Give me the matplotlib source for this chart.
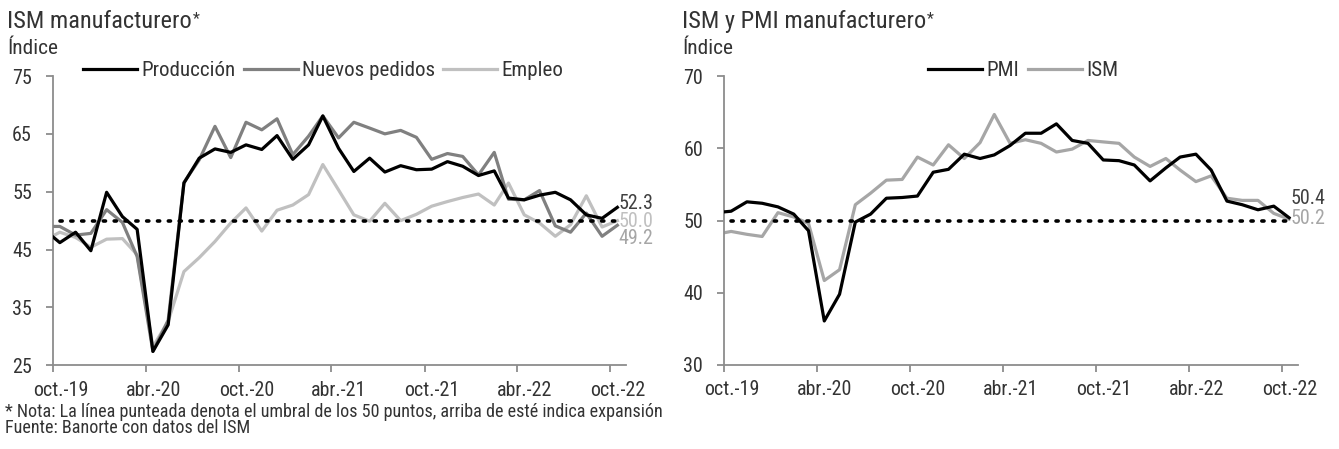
import matplotlib
matplotlib.use("Agg")
import matplotlib.pyplot as plt
from matplotlib import font_manager
import datetime as dt

# ---------------- data (monthly, Sep-2019 .. Oct-2022) ----------------
months = [dt.date(2019 + (8 + i) // 12, (8 + i) % 12 + 1, 15) for i in range(38)]

produccion = [48.4, 46.2, 48.0, 44.8, 54.9, 50.7, 48.5, 27.4, 32.0, 56.5, 60.8, 62.4, 61.8,
              63.1, 62.3, 64.7, 60.6, 63.1, 68.1, 62.5, 58.5, 60.8, 58.4, 59.5, 58.8,
              58.9, 60.2, 59.4, 57.8, 58.6, 53.9, 53.6, 54.4, 54.9, 53.6, 51.0, 50.4, 52.3]
nuevos_pedidos = [49.0, 49.0, 47.5, 47.8, 51.9, 49.7, 43.8, 27.4, 32.8, 56.6, 60.5, 66.3, 60.9,
                  67.0, 65.7, 67.6, 61.4, 64.6, 68.1, 64.3, 67.0, 66.0, 65.0, 65.6, 64.4,
                  60.6, 61.6, 61.1, 57.9, 61.8, 53.7, 53.6, 55.2, 49.1, 48.0, 51.3, 47.3, 49.2]
empleo = [46.6, 48.0, 47.1, 45.4, 46.8, 46.9, 44.1, 28.2, 32.6, 41.2, 43.6, 46.4, 49.6,
          52.2, 48.2, 51.8, 52.7, 54.5, 59.7, 55.3, 51.0, 49.9, 53.0, 50.0, 51.1,
          52.5, 53.3, 54.0, 54.6, 52.7, 56.5, 51.0, 49.6, 47.3, 49.3, 54.3, 48.9, 50.0]
pmi = [51.1, 51.3, 52.6, 52.4, 51.9, 50.9, 48.6, 36.1, 39.8, 49.8, 50.9, 53.1, 53.2,
       53.4, 56.7, 57.1, 59.2, 58.6, 59.1, 60.4, 62.1, 62.1, 63.4, 61.1, 60.7,
       58.4, 58.3, 57.7, 55.5, 57.3, 58.8, 59.2, 57.0, 52.7, 52.2, 51.5, 52.0, 50.4]
ism = [48.1, 48.5, 48.1, 47.8, 51.1, 50.5, 49.6, 41.7, 43.2, 52.2, 53.8, 55.6, 55.7,
       58.8, 57.7, 60.5, 58.6, 60.8, 64.7, 60.7, 61.2, 60.7, 59.5, 59.9, 61.1,
       60.9, 60.7, 58.8, 57.5, 58.6, 57.0, 55.4, 56.2, 53.1, 52.8, 52.8, 51.0, 50.2]
umbral = 50

tick_dates = [dt.date(2019, 10, 1), dt.date(2020, 4, 1), dt.date(2020, 10, 1), dt.date(2021, 4, 1),
              dt.date(2021, 10, 1), dt.date(2022, 4, 1), dt.date(2022, 10, 1)]
tick_labels = ["oct.-19", "abr.-20", "oct.-20", "abr.-21", "oct.-21", "abr.-22", "oct.-22"]

# ---------------- fonts: prefer a narrow / condensed sans ----------------
chosen_family, chosen_stretch = "Liberation Sans", "normal"
cands = []
for f in font_manager.fontManager.ttflist:
    narrowish = ("Narrow" in f.name or "Condensed" in f.name or
                 str(f.stretch) in ("condensed", "semi-condensed", "extra-condensed") or
                 (isinstance(f.stretch, int) and f.stretch < 500))
    if narrowish and f.style == "normal" and f.weight in (400, "normal", "regular"):
        cands.append(f)
pref = ["Liberation Sans Narrow", "Arial Narrow", "Roboto Condensed", "Open Sans Condensed",
        "Noto Sans", "DejaVu Sans", "Open Sans", "Roboto", "Lato", "Inter"]
for p in pref:
    hit = [f for f in cands if f.name == p]
    if hit:
        chosen_family, chosen_stretch = hit[0].name, hit[0].stretch
        break
plt.rcParams["font.family"] = [chosen_family, "Liberation Sans", "DejaVu Sans"]
plt.rcParams["font.stretch"] = chosen_stretch

TXT = "#333333"
AX = "#8c8c8c"
C_BLACK = "#000000"
C_DGRAY = "#808080"
C_LGRAY = "#c0c0c0"
C_MGRAY = "#a6a6a6"

W, H = 1339, 449
fig = plt.figure(figsize=(W / 100, H / 100), dpi=100)
renderer = fig.canvas.get_renderer()


def fit(text, target_px, ref=12.0):
    t = fig.text(0, 0, text, fontsize=ref)
    w = t.get_window_extent(renderer).width
    t.remove()
    return ref * target_px / w


FS_TICK = min(fit("oct.-19", 55), 16)
FS_LEG = min(fit("Producción", 94), 16)
FS_TITLE = min(fit("ISM manufacturero", 184), 18)
FS_IDX = min(fit("Índice", 51), 16)
FS_NOTE = min(fit("* Nota: La línea punteada denota el umbral de los 50 puntos, arriba de esté indica expansión", 660), 14)


def px(x0, y_top, x1, y_bot):
    return [x0 / W, 1 - y_bot / H, (x1 - x0) / W, (y_bot - y_top) / H]


def style_axis(ax, ylim, yticks):
    ax.set_xlim(dt.date(2019, 10, 1), dt.date(2022, 11, 1))
    ax.set_ylim(*ylim)
    ax.set_yticks(yticks)
    for s in ["top", "right"]:
        ax.spines[s].set_visible(False)
    for s in ["left", "bottom"]:
        ax.spines[s].set_color(AX)
        ax.spines[s].set_linewidth(1.3)
    ax.set_xticks(tick_dates)
    ax.set_xticklabels([])
    ax.set_xticks([d + dt.timedelta(days=15) for d in tick_dates], minor=True)
    ax.set_xticklabels(tick_labels, minor=True)
    ax.tick_params(axis="x", which="major", direction="out", length=5, width=1.3, color=AX)
    ax.tick_params(axis="x", which="minor", length=0, pad=11, labelsize=FS_TICK, labelcolor=TXT)
    ax.tick_params(axis="y", direction="out", length=5, width=1.3, color=AX, pad=10,
                   labelsize=FS_TICK, labelcolor=TXT)


# ---------------- left chart ----------------
ax1 = fig.add_axes(px(52.7, 76, 626, 365.3))
style_axis(ax1, (25, 75), [25, 35, 45, 55, 65, 75])
ax1.plot(months[1:], [umbral] * (len(months) - 1), color="black", lw=2.6, ls=(0, (0.6, 2.4)),
         dash_capstyle="round", zorder=4)
ax1.plot(months, empleo, color=C_LGRAY, lw=2.3, label="Empleo", zorder=2)
ax1.plot(months, nuevos_pedidos, color=C_DGRAY, lw=2.3, label="Nuevos pedidos", zorder=3)
ax1.plot(months, produccion, color=C_BLACK, lw=2.3, label="Producción", zorder=3)
h, l = ax1.get_legend_handles_labels()
order = [2, 1, 0]
ax1.legend([h[i] for i in order], [l[i] for i in order], loc="center left",
           bbox_to_anchor=(83 / W, 1 - 71 / H), bbox_transform=fig.transFigure, ncol=3,
           frameon=False, fontsize=FS_LEG, handlelength=54 / (FS_LEG * 100 / 72),
           handletextpad=0.2, columnspacing=0.4, borderpad=0, borderaxespad=0, labelcolor=TXT)
ax1.annotate(f"{produccion[-1]:.1f}", (months[-1], produccion[-1]), xytext=(1, 2.5),
             textcoords="offset points", va="center", ha="left", fontsize=FS_TICK, color="#404040",
             annotation_clip=False)
ax1.annotate(f"{empleo[-1]:.1f}", (months[-1], empleo[-1]), xytext=(1, -0.5),
             textcoords="offset points", va="center", ha="left", fontsize=FS_TICK, color=C_LGRAY,
             annotation_clip=False)
ax1.annotate(f"{nuevos_pedidos[-1]:.1f}", (months[-1], nuevos_pedidos[-1]), xytext=(1, -9.5),
             textcoords="offset points", va="center", ha="left", fontsize=FS_TICK, color=C_MGRAY,
             annotation_clip=False)

# ---------------- right chart ----------------
ax2 = fig.add_axes(px(724, 76.2, 1297.7, 365))
style_axis(ax2, (30, 70), [30, 40, 50, 60, 70])
ax2.plot(months[1:], [umbral] * (len(months) - 1), color="black", lw=2.6, ls=(0, (0.6, 2.4)),
         dash_capstyle="round", zorder=4)
ax2.plot(months, ism, color=C_MGRAY, lw=2.3, label="ISM", zorder=2)
ax2.plot(months, pmi, color=C_BLACK, lw=2.3, label="PMI", zorder=3)
h, l = ax2.get_legend_handles_labels()
ax2.legend([h[1], h[0]], [l[1], l[0]], loc="center left",
           bbox_to_anchor=(928 / W, 1 - 71 / H), bbox_transform=fig.transFigure, ncol=2,
           frameon=False, fontsize=FS_LEG, handlelength=54 / (FS_LEG * 100 / 72),
           handletextpad=0.2, columnspacing=0.45, borderpad=0, borderaxespad=0, labelcolor=TXT)
ax2.annotate(f"{pmi[-1]:.1f}", (months[-1], pmi[-1]), xytext=(1, 14),
             textcoords="offset points", va="center", ha="left", fontsize=FS_TICK, color="#404040",
             annotation_clip=False)
ax2.annotate(f"{ism[-1]:.1f}", (months[-1], ism[-1]), xytext=(1, 0.5),
             textcoords="offset points", va="center", ha="left", fontsize=FS_TICK, color=C_MGRAY,
             annotation_clip=False)

# ---------------- titles and notes ----------------
for x0, title in [(7, "ISM manufacturero"), (682, "ISM y PMI manufacturero")]:
    t = fig.text(x0 / W, 1 - 28 / H, title, fontsize=FS_TITLE, color=TXT, va="baseline", ha="left")
    plt.annotate("*", xy=(1, 1), xycoords=t, xytext=(0.5, -1), textcoords="offset points",
                 fontsize=FS_TITLE * 0.65, color=TXT, va="top", ha="left")
    fig.text(x0 / W, 1 - 54 / H, "Índice", fontsize=FS_IDX, color=TXT, va="baseline", ha="left")

fig.text(5 / W, 1 - 417 / H,
         "* Nota: La línea punteada denota el umbral de los 50 puntos, arriba de esté indica expansión",
         fontsize=FS_NOTE, color=TXT, va="baseline", ha="left")
fig.text(5 / W, 1 - 433 / H, "Fuente: Banorte con datos del ISM",
         fontsize=FS_NOTE, color=TXT, va="baseline", ha="left")

fig.savefig("out.png", dpi=100)
